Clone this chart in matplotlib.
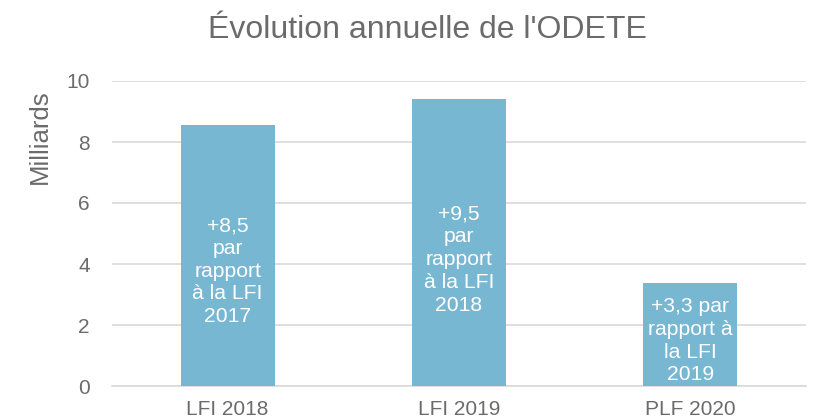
import matplotlib
matplotlib.use("Agg")
import matplotlib.pyplot as plt

categories = ["LFI 2018", "LFI 2019", "PLF 2020"]
values = [8.56, 9.41, 3.38]
bar_labels = ["+8,5\npar\nrapport\nà la LFI\n2017",
              "+9,5\npar\nrapport\nà la LFI\n2018",
              "+3,3 par\nrapport à\nla LFI\n2019"]
yticks = [0, 2, 4, 6, 8, 10]

plt.rcParams['font.family'] = ['Liberation Sans', 'DejaVu Sans']
gray = '#6B6B6B'
bar_color = '#77B7D2'

fig = plt.figure(figsize=(8.18, 4.19), dpi=100)
ax = fig.add_axes([112/818, 1-386/419, (806-112)/818, (386-81)/419])

x = list(range(len(categories)))
ax.bar(x, values, width=0.407, color=bar_color, zorder=3)
for xi, v, lab in zip(x, values, bar_labels):
    ax.text(xi, v*0.44, lab, ha='center', va='center', color='white',
            fontsize=15.2, linespacing=1.25, zorder=4)

ax.set_xlim(-0.5, len(categories)-0.5)
ax.set_ylim(0, 10)
ax.set_yticks(yticks)
ax.set_yticklabels([str(t) for t in yticks])
ax.set_xticks(x)
ax.set_xticklabels(categories)
ax.tick_params(axis='both', length=0, labelsize=15, colors=gray)
ax.tick_params(axis='y', pad=16)
ax.tick_params(axis='x', pad=10)
ax.grid(axis='y', color='#D9D9D9', linewidth=1.2, zorder=0)
for s in ['top', 'right', 'left']:
    ax.spines[s].set_visible(False)
ax.spines['bottom'].set_color('#D9D9D9')
ax.spines['bottom'].set_linewidth(1.2)
ax.set_ylabel("Milliards", fontsize=18.5, color=gray)
ax.yaxis.set_label_coords(-0.087, 0.816)

fig.text(427.5/818, 1-30/419, "Évolution annuelle de l'ODETE", ha='center', va='center',
         fontsize=23, color=gray)

fig.savefig("out.png", dpi=100)
